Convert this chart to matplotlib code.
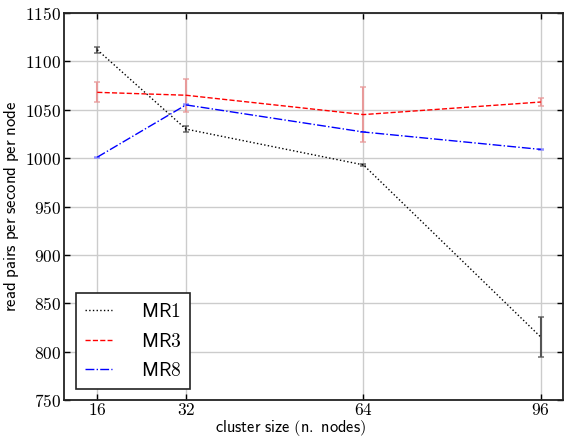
import matplotlib
matplotlib.use("Agg")
import matplotlib.pyplot as plt

plt.rcParams['mathtext.fontset'] = 'cm'

cluster_sizes = [16, 32, 64, 96]
x_tick_labels = ['16', '32', '64', '96']
y_ticks = [750, 800, 850, 900, 950, 1000, 1050, 1100, 1150]

mr1_vals = [1112, 1030, 993, 815]
mr1_err = [3, 3, 1, 21]
mr3_vals = [1068, 1065, 1045, 1058]
mr3_err = [10.5, 17, 28.5, 4.6]
mr8_vals = [1001, 1055, 1027, 1009]
mr8_err = [0.5, 0.5, 0.5, 0.5]

fig = plt.figure(figsize=(5.64, 4.38), dpi=100)
ax = fig.add_axes([64/564, 38/438, 499/564, 387/438])

series = [
    ('MR1', mr1_vals, mr1_err, 'black', ':', '#555555'),
    ('MR3', mr3_vals, mr3_err, 'red', '--', '#e89a9a'),
    ('MR8', mr8_vals, mr8_err, 'blue', '-.', '#8080ff'),
]
handles = []
for name, vals, err, col, ls, ecol in series:
    line, caps, bars = ax.errorbar(cluster_sizes, vals, yerr=err, color=col, ls=ls,
                                   lw=1.0, ecolor=ecol, elinewidth=1.5, capsize=2.5,
                                   capthick=1.2, zorder=3)
    for c in caps:
        c.set_color(col if name != 'MR1' else '#333333')
        c.set_alpha(0.8)
    line.set_label(r'$\mathsf{%s}$' % name)
    handles.append(line)

ax.set_xlim(10, 100)
ax.set_ylim(750, 1150)
ax.set_xticks(cluster_sizes)
ax.set_xticklabels(['$%s$' % t for t in x_tick_labels], fontsize=12.5)
ax.set_yticks(y_ticks)
ax.set_yticklabels(['$%d$' % t for t in y_ticks], fontsize=12.5)
ax.grid(True, color='#cccccc', lw=1.0, zorder=0)
ax.set_axisbelow(True)
ax.tick_params(direction='in', length=4, width=1, top=True, right=True, pad=2)
ax.tick_params(axis='x', pad=1)
for s in ax.spines.values():
    s.set_linewidth(1.3)
    s.set_color('#222222')

ax.set_xlabel(r'$\mathsf{cluster\ size\ (n.\ nodes)}$', fontsize=11.8)
ax.set_ylabel(r'$\mathsf{read\ pairs\ per\ second\ per\ node}$', fontsize=12)
ax.xaxis.set_label_coords((291 - 64) / 499, -(428.5 - 400) / 387)
ax.yaxis.set_label_coords(-(64 - 12) / 499, (400 - 206) / 387)
ax.xaxis.label.set_va('center')
ax.yaxis.label.set_va('center')

leg = ax.legend(handles=handles, loc='lower left', fontsize=14, handlelength=1.4,
                borderpad=0.45, labelspacing=0.55, fancybox=False, framealpha=1,
                edgecolor='#222222', bbox_to_anchor=((76 - 64) / 499, (400 - 389) / 387),
                borderaxespad=0, handletextpad=1.5)
leg.get_frame().set_linewidth(1.2)

fig.savefig('out.png', dpi=100)
